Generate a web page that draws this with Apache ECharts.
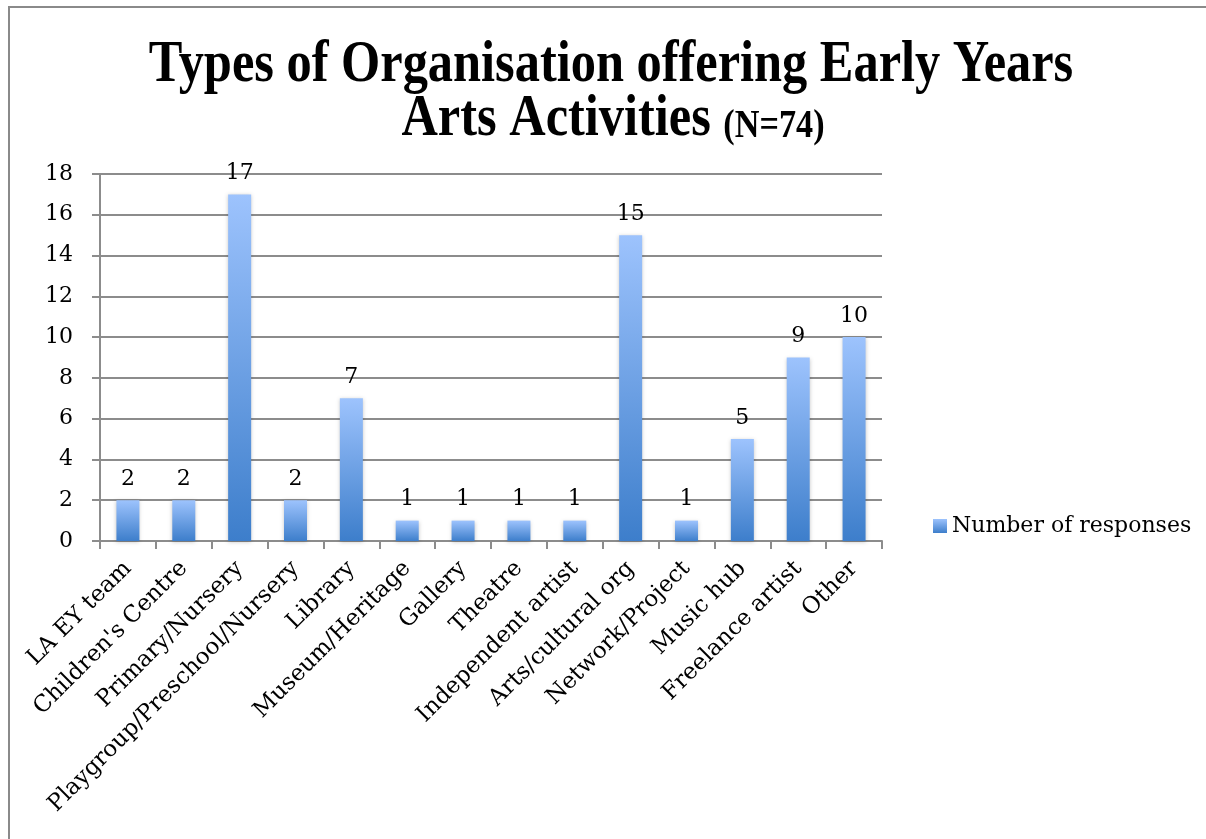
<!DOCTYPE html>
<html>
<head>
<meta charset="utf-8">
<script src="https://cdn.jsdelivr.net/npm/echarts@6/dist/echarts.min.js"></script>
<style>
  html, body { margin: 0; padding: 0; background: #fff; }
  #chart { width: 1206px; height: 839px; }
</style>
</head>
<body>
<div id="chart"></div>
<script>
// Organisation types and the number of responses for each
const categories = [
  'LA EY team', "Children's Centre", 'Primary/Nursery', 'Playgroup/Preschool/Nursery',
  'Library', 'Museum/Heritage', 'Gallery', 'Theatre', 'Independent artist',
  'Arts/cultural org', 'Network/Project', 'Music hub', 'Freelance artist', 'Other'
];
const responses = [2, 2, 17, 2, 7, 1, 1, 1, 1, 15, 1, 5, 9, 10];
const seriesName = 'Number of responses';
const titleLine1 = 'Types of Organisation offering Early Years';
const titleLine2 = 'Arts Activities ';
const titleNote = '(N=74)';

const titleFont = "'Liberation Serif', 'DejaVu Serif', serif";
const bodyFont = "'DejaVu Serif', 'Liberation Serif', serif";
const gridColor = '#8c8c8c';

const chart = echarts.init(document.getElementById('chart'));

const barFill = new echarts.graphic.LinearGradient(0, 0, 0, 1, [
  { offset: 0, color: '#9dc3fd' },
  { offset: 1, color: '#3d7ecb' }
]);

chart.setOption({
  backgroundColor: '#ffffff',
  animation: false,
  graphic: [
    {
      type: 'rect',
      shape: { x: 9, y: 7, width: 1240, height: 880 },
      style: { fill: 'none', stroke: '#8a8a8a', lineWidth: 2 },
      silent: true
    },
    {
      type: 'text',
      x: 611, y: 66,
      scaleX: 0.9,
      scaleY: 1.06,
      style: {
        text: titleLine1,
        font: "bold 56px " + titleFont,
        fill: '#000',
        textAlign: 'center',
        textVerticalAlign: 'middle'
      }
    },
    {
      type: 'text',
      x: 613, y: 120,
      scaleX: 0.9,
      scaleY: 1.06,
      style: {
        text: '{a|' + titleLine2 + '}{b|' + titleNote + '}',
        textAlign: 'center',
        textVerticalAlign: 'middle',
        rich: {
          a: { font: "bold 56px " + titleFont, fill: '#000', color: '#000' },
          b: { font: "bold 38px " + titleFont, fill: '#000', color: '#000', padding: [12, 0, 0, 0] }
        }
      }
    }
  ],
  legend: {
    data: [seriesName],
    left: 928,
    top: 510,
    itemWidth: 14,
    itemHeight: 14,
    itemGap: 8,
    icon: 'rect',
    textStyle: { fontFamily: bodyFont, fontSize: 22, color: '#000' }
  },
  grid: { left: 100, right: 324, top: 174, bottom: 298, containLabel: false },
  xAxis: {
    type: 'category',
    data: categories,
    boundaryGap: true,
    axisLine: { show: true, lineStyle: { color: gridColor, width: 2 } },
    axisTick: { show: true, length: 8, interval: 0, alignWithLabel: false, lineStyle: { color: gridColor, width: 2 } },
    axisLabel: {
      interval: 0,
      rotate: 45,
      margin: 24,
      fontFamily: bodyFont,
      fontSize: 23,
      color: '#000'
    },
    splitLine: { show: false }
  },
  yAxis: {
    type: 'value',
    min: 0,
    max: 18,
    interval: 2,
    axisLine: { show: true, lineStyle: { color: gridColor, width: 2 } },
    axisTick: { show: true, length: 8, lineStyle: { color: gridColor, width: 2 } },
    axisLabel: { margin: 27, fontFamily: bodyFont, fontSize: 22, color: '#000' },
    splitLine: { show: true, lineStyle: { color: gridColor, width: 2 } }
  },
  series: [{
    name: seriesName,
    type: 'bar',
    data: responses,
    barWidth: 23,
    itemStyle: {
      color: barFill,
      shadowBlur: 4,
      shadowColor: 'rgba(0,0,0,0.22)',
      shadowOffsetY: 1
    },
    label: {
      show: true,
      position: 'top',
      distance: 10,
      fontFamily: bodyFont,
      fontSize: 22,
      color: '#000'
    }
  }]
});
</script>
</body>
</html>
